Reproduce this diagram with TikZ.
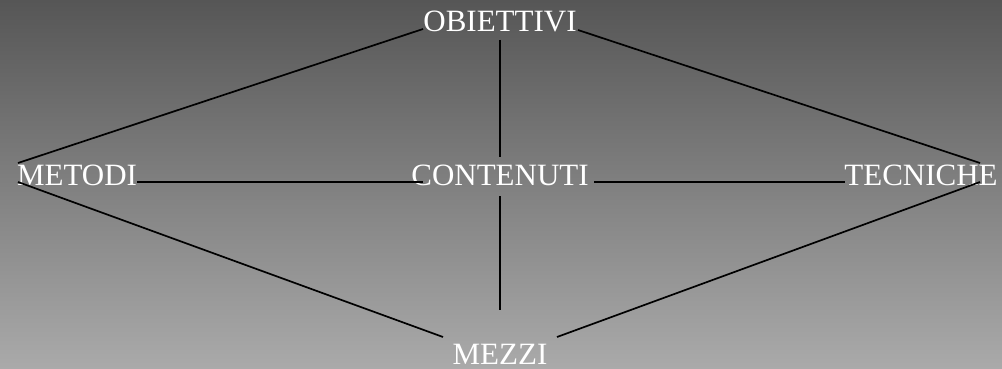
\documentclass[tikz,border=0pt]{standalone}
\usepackage{fontspec}
\setmainfont{Liberation Serif}
\definecolor{bgtop}{RGB}{86,86,86}
\definecolor{bgbot}{RGB}{170,170,170}
\begin{document}
\begin{tikzpicture}[x=1pt,y=-1pt,
  lbl/.style={anchor=base,inner sep=0pt,text=white,font=\fontsize{31}{31}\selectfont},
  conn/.style={draw=black,line width=1.7pt}]
\shade[top color=bgtop,bottom color=bgbot] (0,0) rectangle (1002,369);
\useasboundingbox (0,0) rectangle (1002,369);
\node[lbl] (obi) at (500,32) {OBIETTIVI};
\node[lbl] (met) at (77,185) {METODI};
\node[lbl] (con) at (500,185) {CONTENUTI};
\node[lbl] (tec) at (921,185) {TECNICHE};
\node[lbl] (mez) at (500,364) {MEZZI};
% diamond edges
\draw[conn] ([xshift=-77pt,yshift=3pt]obi.base) -- ([xshift=-59pt,yshift=22pt]met.base);
\draw[conn] ([xshift=78pt,yshift=2pt]obi.base) -- ([xshift=59pt,yshift=22pt]tec.base);
\draw[conn] ([xshift=-59pt,yshift=3pt]met.base) -- ([xshift=-57pt,yshift=27pt]mez.base);
\draw[conn] ([xshift=59pt,yshift=3pt]tec.base) -- ([xshift=57pt,yshift=27pt]mez.base);
% verticals
\draw[conn] ([yshift=-8pt]obi.base) -- ([yshift=28pt]con.base);
\draw[conn] ([yshift=-11pt]con.base) -- ([yshift=54pt]mez.base);
% horizontals
\draw[conn] ([xshift=60pt,yshift=3pt]met.base) -- ([xshift=-77pt,yshift=3pt]con.base);
\draw[conn] ([xshift=94pt,yshift=3pt]con.base) -- ([xshift=-76pt,yshift=3pt]tec.base);
\end{tikzpicture}
\end{document}
